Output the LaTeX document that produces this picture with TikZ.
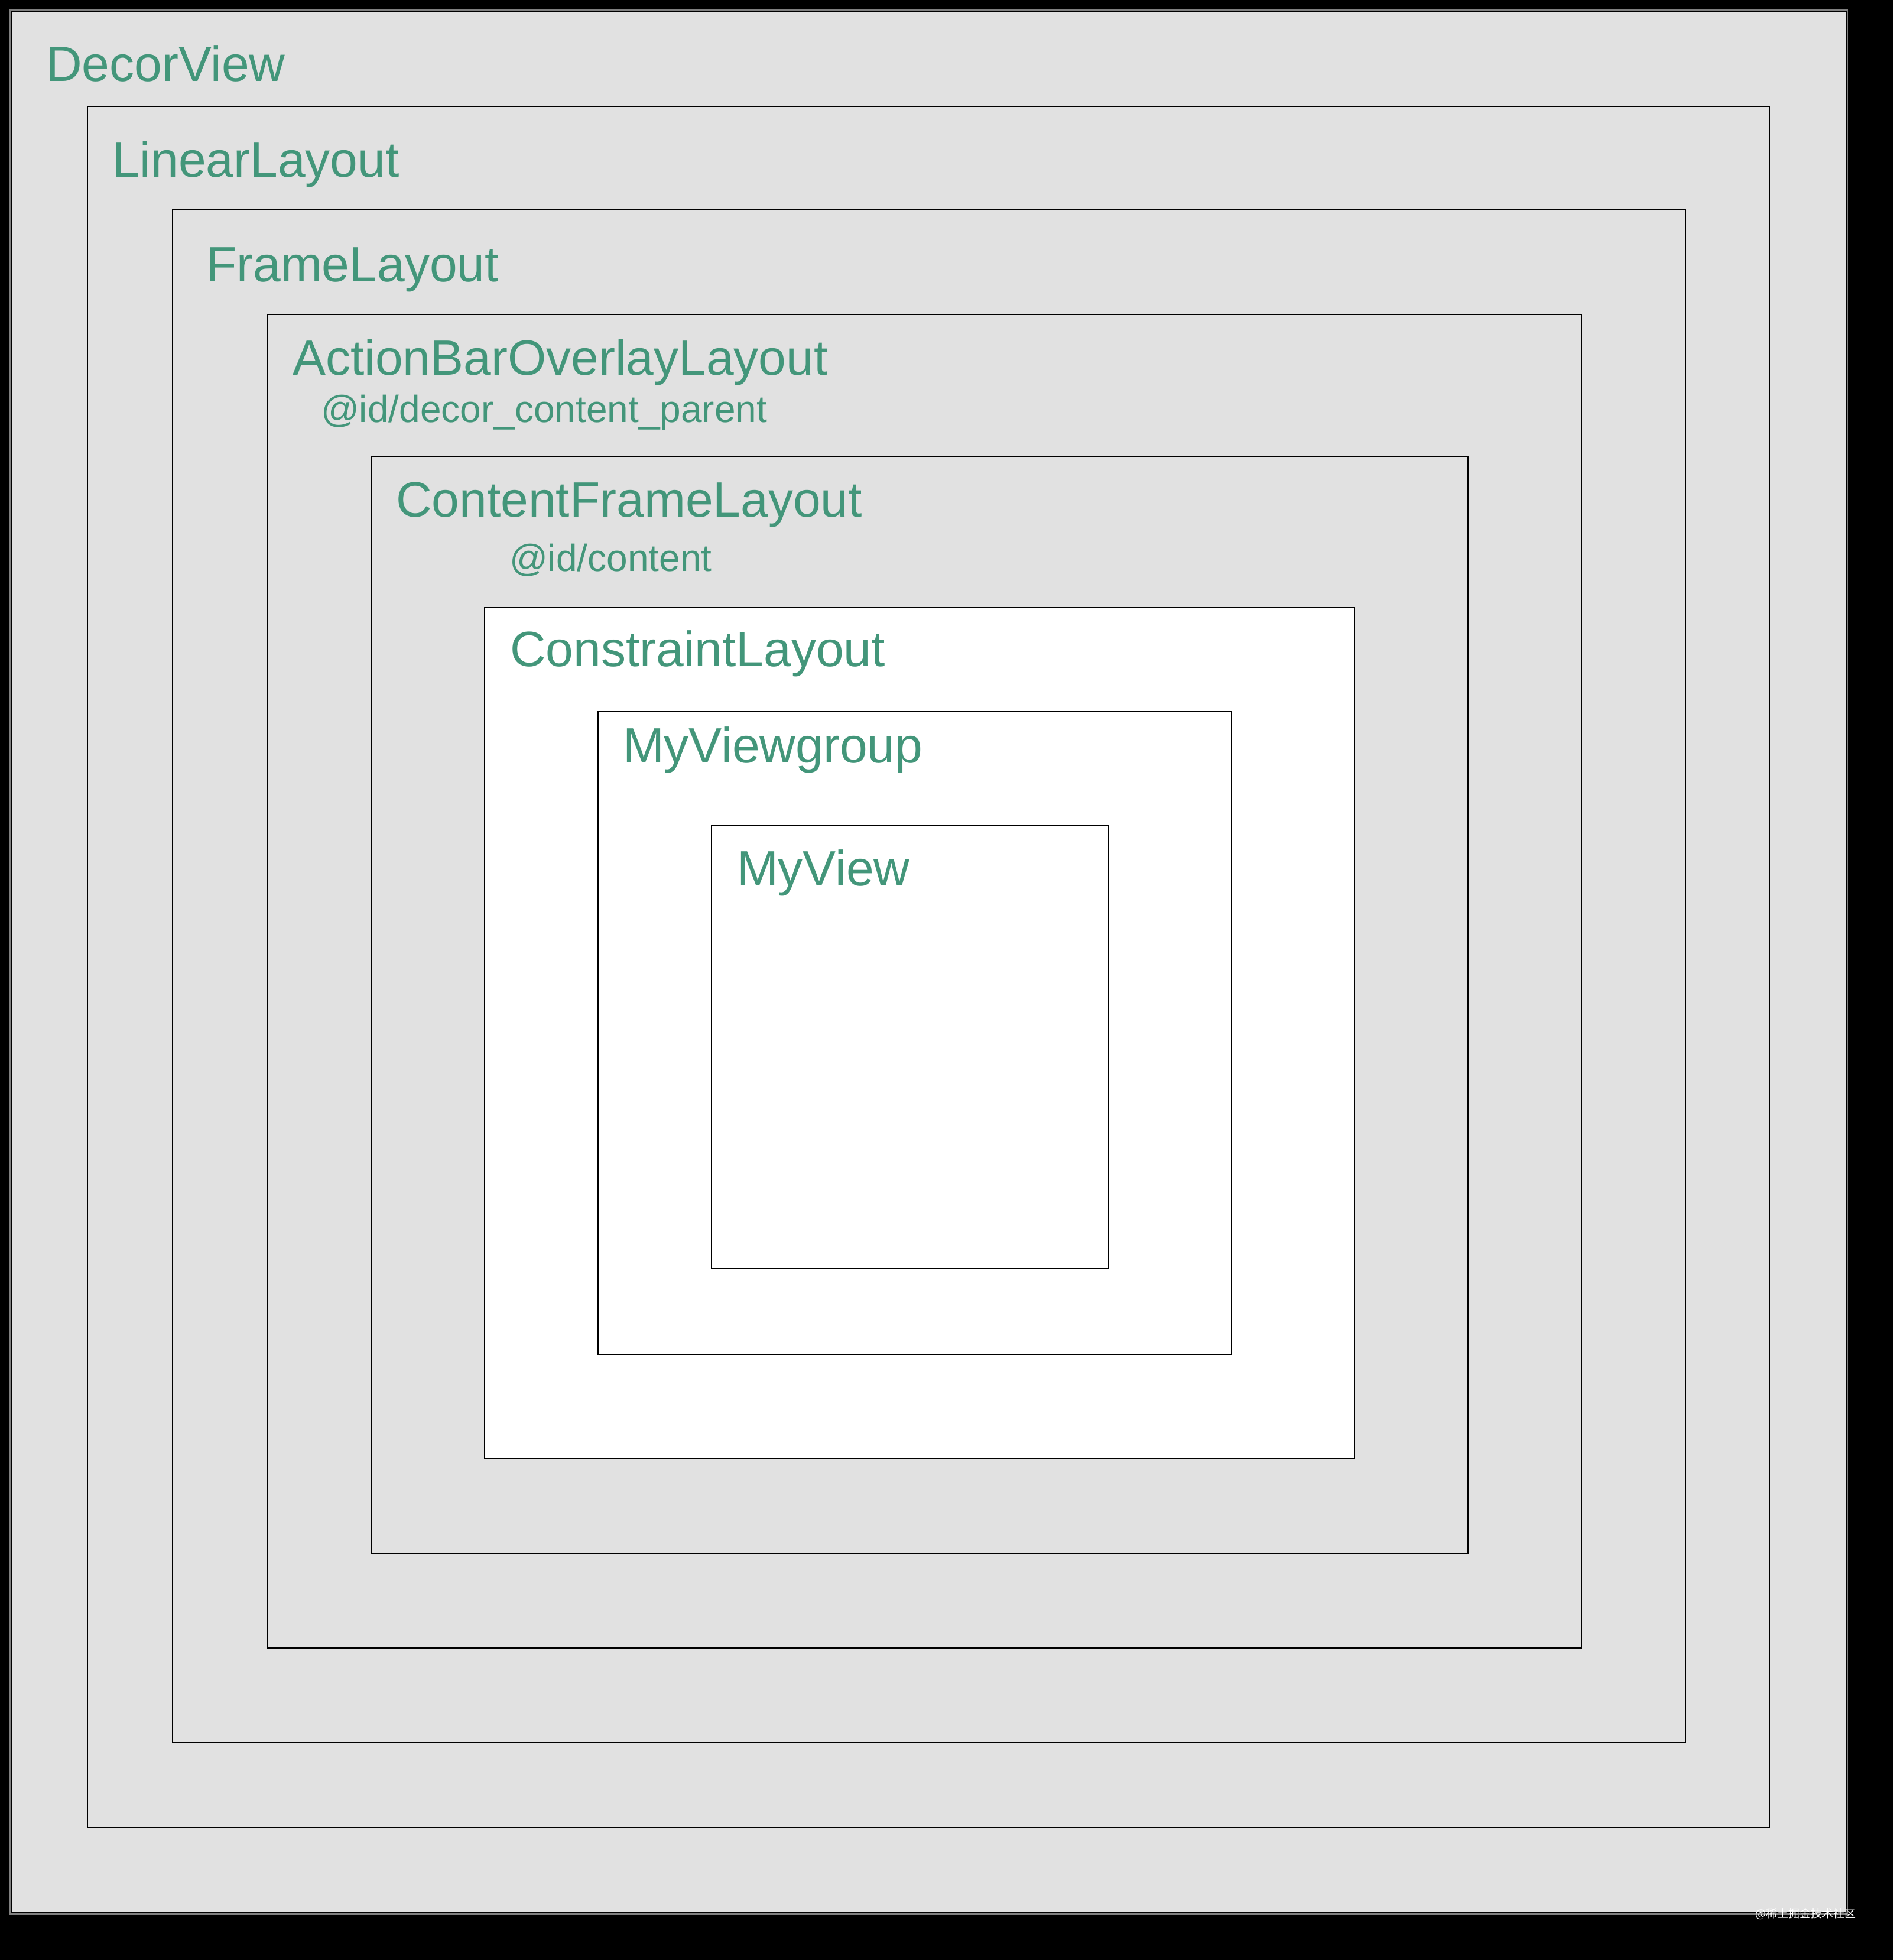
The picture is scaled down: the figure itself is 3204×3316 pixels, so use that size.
\documentclass[tikz,border=0pt]{standalone}
\usepackage{fontspec}
\setmainfont{Liberation Sans}
\newfontfamily\cjkfont{Noto Sans CJK SC}
\definecolor{labelgreen}{HTML}{43967A}
\definecolor{panelgray}{HTML}{E1E1E1}
\definecolor{rimgray}{HTML}{808080}
\tikzset{
  layoutbox/.style={draw=black, line width=2pt},
  graybox/.style={layoutbox, fill=panelgray},
  whitebox/.style={layoutbox, fill=white},
  biglabel/.style={anchor=base west, inner sep=0pt, outer sep=0pt, text=labelgreen,
    font=\fontsize{84}{90}\selectfont},
  idlabel/.style={anchor=base west, inner sep=0pt, outer sep=0pt, text=labelgreen,
    font=\fontsize{64}{70}\selectfont},
}
\begin{document}
\begin{tikzpicture}[x=1pt, y=-1pt]
  \useasboundingbox (0,0) rectangle (3204,3316);
  \fill[black] (0,0) rectangle (3204,3316);
  % DecorView outer rim and panel
  \fill[rimgray] (16,16) rectangle (3128,3240);
  \draw[graybox] (20,20) rectangle (3124,3236);
  % nested layouts
  \draw[graybox] (148,180) rectangle (2995,3092);
  \draw[graybox] (292,355) rectangle (2852,2948);
  \draw[graybox] (452,532) rectangle (2676,2788);
  \draw[graybox] (628,772) rectangle (2484,2628);
  \draw[whitebox] (820,1028) rectangle (2292,2468);
  \draw[whitebox] (1012,1204) rectangle (2084,2292);
  \draw[whitebox] (1204,1396) rectangle (1876,2146);
  % labels
  \node[biglabel] (decor) at (78,137) {DecorView};
  \node[biglabel] (linear) at (190,299) {LinearLayout};
  \node[biglabel] (frame) at (349,476) {FrameLayout};
  \node[biglabel] (abol) at (495,634) {ActionBarOverlayLayout};
  \node[idlabel] (abolid) at (543,714) {@id/decor\_content\_parent};
  \node[biglabel] (cfl) at (670,874) {ContentFrameLayout};
  \node[idlabel] (cflid) at (862,966) {@id/content};
  \node[biglabel] (constraint) at (863,1127) {ConstraintLayout};
  \node[biglabel] (mvg) at (1054,1290) {MyViewgroup};
  \node[biglabel] (mv) at (1247,1498) {MyView};
  % watermark
  \node[anchor=base west, inner sep=0pt, text=white, font=\cjkfont\fontsize{19}{20}\selectfont] (wm) at (2970,3244) {@稀土掘金技术社区};
\end{tikzpicture}
\end{document}
